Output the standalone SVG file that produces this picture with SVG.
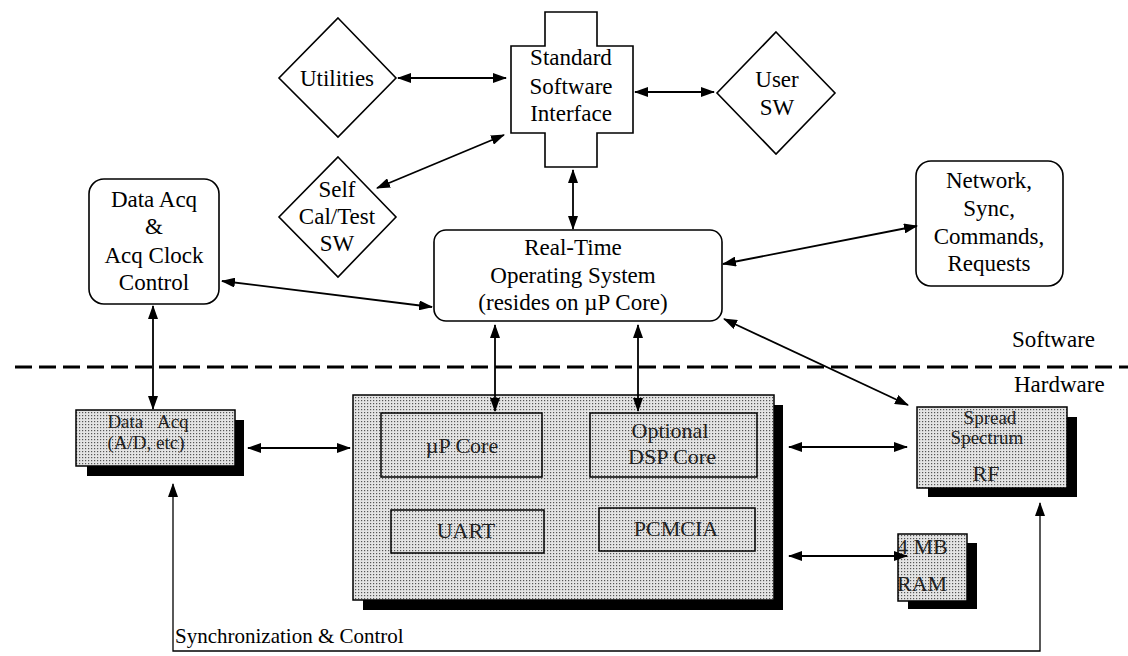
<svg xmlns="http://www.w3.org/2000/svg" width="1128" height="656" viewBox="0 0 1128 656">
<defs>
<pattern id="stip" width="3" height="3" patternUnits="userSpaceOnUse">
<rect width="3" height="3" fill="#e4e4e4"/>
<rect x="1" y="1" width="1.2" height="1.2" fill="#555"/>
</pattern>
<marker id="ah" viewBox="0 0 14 10" refX="13" refY="5" markerWidth="14" markerHeight="10" markerUnits="userSpaceOnUse" orient="auto-start-reverse">
<path d="M0,0 L14,5 L0,10 z" fill="#000"/>
</marker>
</defs>
<style>
.sw{fill:#fff;stroke:#000;stroke-width:1.6}
.t{font-family:"Liberation Serif","Times New Roman",serif;font-size:23px;fill:#000;text-anchor:middle}
.hw{fill:url(#stip);stroke:#000;stroke-width:1.5}
.sh{fill:#000}
.ht{font-family:"Liberation Serif","Times New Roman",serif;font-size:22px;fill:#222;text-anchor:middle}
.hs{font-size:19px}
.c{fill:none;stroke:#000;stroke-width:1.8;marker-start:url(#ah);marker-end:url(#ah)}
</style>
<rect width="1128" height="656" fill="#fff"/>

<g id="utilities">
<polygon class="sw" points="338,18 396,78 338,137 279,78"/>
<text class="t" x="337" y="86">Utilities</text>
</g>
<g id="standard-software-interface">
<polygon class="sw" points="545,12 597,12 597,46 633,46 633,133 597,133 597,167 545,167 545,133 511,133 511,46 545,46"/>
<text class="t" x="571" y="65">Standard</text>
<text class="t" x="571" y="94">Software</text>
<text class="t" x="571" y="121">Interface</text>
</g>
<g id="user-sw">
<polygon class="sw" points="776,32 835,93 776,154 717,93"/>
<text class="t" x="777" y="87">User</text>
<text class="t" x="777" y="115">SW</text>
</g>
<g id="self-cal-test">
<polygon class="sw" points="338,157 396,217 338,277 279,217"/>
<text class="t" x="337" y="197">Self</text>
<text class="t" x="337" y="224">Cal/Test</text>
<text class="t" x="337" y="251">SW</text>
</g>
<g id="data-acq-control">
<rect class="sw" x="89" y="179" width="130" height="125" rx="15"/>
<text class="t" x="154" y="207">Data Acq</text>
<text class="t" x="154" y="234">&amp;</text>
<text class="t" x="154" y="263">Acq Clock</text>
<text class="t" x="154" y="290">Control</text>
</g>
<g id="rtos">
<rect class="sw" x="434" y="230" width="288" height="91" rx="12"/>
<text class="t" x="573" y="255">Real-Time</text>
<text class="t" x="573" y="283">Operating System</text>
<text class="t" x="573" y="310">(resides on µP Core)</text>
</g>
<g id="network">
<rect class="sw" x="916" y="161" width="147" height="125" rx="15"/>
<text class="t" x="989" y="188">Network,</text>
<text class="t" x="989" y="216">Sync,</text>
<text class="t" x="989" y="244">Commands,</text>
<text class="t" x="989" y="271">Requests</text>
</g>

<g id="divider">
<line x1="15" y1="367" x2="1128" y2="367" stroke="#000" stroke-width="3" stroke-dasharray="17 7"/>
<text class="t" x="1012" y="347" style="text-anchor:start">Software</text>
<text class="t" x="1014" y="392" style="text-anchor:start">Hardware</text>
</g>

<g id="data-acq-hw">
<rect class="sh" x="87" y="420" width="157" height="56"/>
<rect class="hw" x="76" y="410" width="159" height="56"/>
<text class="ht hs" x="148" y="428" style="word-spacing:10px">Data Acq</text>
<text class="ht hs" x="146" y="449">(A/D, etc)</text>
</g>
<g id="processor">
<rect class="sh" x="363" y="405" width="420" height="205"/>
<rect class="hw" x="353" y="395" width="421" height="205"/>
</g>
<g id="up-core">
<rect class="hw" x="381" y="413" width="161" height="64"/>
<text class="ht" x="462" y="453">µP Core</text>
</g>
<g id="dsp-core">
<rect class="hw" x="590" y="413" width="167" height="64"/>
<text class="ht" x="670" y="438">Optional</text>
<text class="ht" x="672" y="464">DSP Core</text>
</g>
<g id="uart">
<rect class="hw" x="391" y="510" width="153" height="43"/>
<text class="ht" x="466" y="538">UART</text>
</g>
<g id="pcmcia">
<rect class="hw" x="599" y="508" width="156" height="43"/>
<text class="ht" x="676" y="536">PCMCIA</text>
</g>
<g id="spread-spectrum">
<rect class="sh" x="928" y="417" width="149" height="80"/>
<rect class="hw" x="917" y="407" width="150" height="81"/>
<text class="ht hs" x="990" y="424">Spread</text>
<text class="ht hs" x="987" y="444">Spectrum</text>
<text class="ht" x="986" y="481">RF</text>
</g>
<g id="ram">
<rect class="sh" x="908" y="543" width="69" height="66"/>
<rect class="hw" x="898" y="534" width="69" height="67"/>
<text class="ht" x="897" y="554" style="text-anchor:start">4 MB</text>
<text class="ht" x="897" y="591" style="text-anchor:start">RAM</text>
</g>

<g id="connectors">
<line class="c" x1="398" y1="78" x2="506" y2="78"/>
<line class="c" x1="635" y1="92" x2="714" y2="92"/>
<line class="c" x1="377" y1="188" x2="504" y2="135"/>
<line class="c" x1="573" y1="170" x2="573" y2="229"/>
<line class="c" x1="222" y1="281" x2="432" y2="307"/>
<line class="c" x1="723" y1="264" x2="917" y2="226"/>
<line class="c" x1="724" y1="319" x2="908" y2="405"/>
<line class="c" x1="495" y1="325" x2="495" y2="411"/>
<line class="c" x1="638" y1="325" x2="638" y2="411"/>
<line class="c" x1="153" y1="306" x2="153" y2="409"/>
<line class="c" x1="248" y1="448" x2="350" y2="448"/>
<line class="c" x1="789" y1="447" x2="907" y2="447"/>
<line class="c" x1="789" y1="556" x2="907" y2="556"/>
<path class="c" style="stroke-width:1.3" d="M173,484 L173,651 L1040,651 L1040,503"/>
<text class="t" x="175" y="643" style="text-anchor:start;font-size:21px">Synchronization &amp; Control</text>
</g>
</svg>
